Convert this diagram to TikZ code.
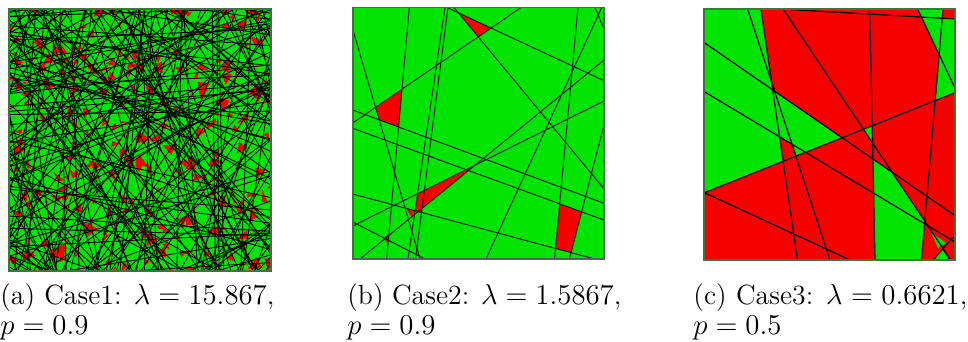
\documentclass[tikz,border=0pt]{standalone}
\begin{document}
\definecolor{pgreen}{RGB}{0,228,0}
\definecolor{pred}{RGB}{246,0,0}
\tikzset{
  aline/.style={black, line width=0.42pt},
  bline/.style={black!75!green!60!black, line width=0.5pt},
  cline/.style={black, line width=0.6pt},
  frame/.style={draw=black!60!green!50!gray, line width=0.9pt},
  captext/.style={inner sep=0pt, text width=137pt, align=justify, anchor=north west,
              font=\fontsize{13.9}{15}\selectfont}
}
\begin{tikzpicture}[x=0.5pt,y=-0.5pt]
\useasboundingbox (0,0) rectangle (968,342);

% ---------------- panel (a) ----------------
\begin{scope}
  \clip (9,9) rectangle (271,271);
  \fill[pgreen] (9,9) rectangle (271,271);
  \pgfmathsetseed{11}
  \foreach \i in {1,...,230}{
    \pgfmathsetmacro\cx{9+262*rnd}
    \pgfmathsetmacro\cy{9+262*rnd}
    \pgfmathsetmacro\sz{4+9*rnd}
    \pgfmathsetmacro\rot{360*rnd}
    \pgfmathsetmacro\tw{115+50*rnd}
    \fill[pred] (\cx,\cy) -- ++(\rot:\sz) -- ++(\rot+\tw:\sz*1.2) -- cycle;
  }
  \foreach \i in {1,...,225}{
    \pgfmathsetmacro\ang{180*rnd}
    \pgfmathsetmacro\rr{(rnd-0.5)*372}
    \draw[aline] ({140+\rr*cos(\ang)-200*sin(\ang)},{140+\rr*sin(\ang)+200*cos(\ang)})
      -- ({140+\rr*cos(\ang)+200*sin(\ang)},{140+\rr*sin(\ang)-200*cos(\ang)});
  }
\end{scope}
\draw[frame] (9,9) rectangle (271,271);

% ---------------- panel (b) ----------------
\coordinate (bA1) at (409.3,7.5);   \coordinate (bA2) at (386.7,259);
\coordinate (bb1) at (352.7,29.3);  \coordinate (bb2) at (420,259);
\coordinate (bc1) at (445,7.5);     \coordinate (bc2) at (408,259);
\coordinate (bd1) at (448,7.5);     \coordinate (bd2) at (415.5,259);
\coordinate (be1) at (352.7,123);   \coordinate (be2) at (521,7.5);
\coordinate (bF1) at (447,7.5);     \coordinate (bF2) at (604,80.7);
\coordinate (bG1) at (454,7.5);     \coordinate (bG2) at (604,188.8);
\coordinate (bH1) at (578,7.5);     \coordinate (bH2) at (554.5,259);
\coordinate (bI1) at (595,7.5);     \coordinate (bI2) at (604,29);
\coordinate (bL1) at (352.7,110);   \coordinate (bL2) at (604,203.3);
\coordinate (bM1) at (352.7,128.3); \coordinate (bM2) at (604,220);
\coordinate (bS1) at (352.7,194);   \coordinate (bS2) at (594.7,259);
\coordinate (bJ1) at (604,125);     \coordinate (bJ2) at (569.5,259);
\coordinate (bP1) at (352.7,226);   \coordinate (bP2) at (604,101);
\coordinate (bQ1) at (360,259);     \coordinate (bQ2) at (604,60);
\coordinate (bV1) at (601.7,7.5);   \coordinate (bV2) at (486,259);
\coordinate (bW1) at (352.7,222);   \coordinate (bW2) at (425,259);
\begin{scope}
  \clip (352.7,7.5) rectangle (604,259);
  \fill[pgreen] (352.7,7.5) rectangle (604,259);
  \fill[pred] (intersection of bF1--bF2 and bG1--bG2) -- (intersection of bF1--bF2 and be1--be2)
     -- (intersection of bG1--bG2 and be1--be2) -- cycle;
  \fill[pred] (intersection of bb1--bb2 and be1--be2) -- (intersection of be1--be2 and bA1--bA2)
     -- (intersection of bA1--bA2 and bL1--bL2) -- (intersection of bL1--bL2 and bb1--bb2) -- cycle;
  \fill[pred] (intersection of bc1--bc2 and bP1--bP2) -- (intersection of bP1--bP2 and bQ1--bQ2)
     -- (intersection of bQ1--bQ2 and bd1--bd2) -- (intersection of bd1--bd2 and bS1--bS2)
     -- (intersection of bS1--bS2 and bc1--bc2) -- cycle;
  \fill[pred] (406.7,209.3) -- (415,210.5) -- (411.5,217) -- cycle;
  \fill[pred] (383.3,238.7) -- (388.3,233.7) -- (387.5,242.5) -- cycle;
  \fill[pred] (intersection of bH1--bH2 and bM1--bM2) -- (intersection of bM1--bM2 and bJ1--bJ2)
     -- (intersection of bJ1--bJ2 and bS1--bS2) -- (intersection of bS1--bS2 and bH1--bH2) -- cycle;
  \foreach \l in {A,b,c,d,e,F,G,H,I,L,M,S,J,P,Q,V,W}{
    \draw[bline] (b\l1) -- (b\l2);
  }
\end{scope}
\draw[frame] (352.7,7.5) rectangle (604,259);

% ---------------- panel (c) ----------------
\coordinate (cA1) at (704.3,42.7);  \coordinate (cA2) at (955,215.7);
\coordinate (cB1) at (704.3,91.7);  \coordinate (cB2) at (955,242);
\coordinate (cC1) at (704.3,192.7); \coordinate (cC2) at (955,92.7);
\coordinate (cD1) at (704.3,192.7); \coordinate (cD2) at (850,260);
\coordinate (cE1) at (761,9.3);     \coordinate (cE2) at (797.5,260);
\coordinate (cZ1) at (747.7,9.3);   \coordinate (cZ2) at (830,260);
\coordinate (cH1) at (783.3,9.3);   \coordinate (cH2) at (950.7,260);
\coordinate (cT1) at (785,9.3);     \coordinate (cT2) at (955,19);
\coordinate (cI1) at (917.7,9.3);   \coordinate (cI2) at (955,88.3);
\coordinate (cK1) at (943,9.3);     \coordinate (cK2) at (921.5,260);
\coordinate (cV1) at (869.7,9.3);   \coordinate (cV2) at (875,260);
\coordinate (cM1) at (955,235);     \coordinate (cM2) at (933,260);
\begin{scope}
  \clip (704.3,9.3) rectangle (955,260);
  \fill[pred] (704.3,9.3) rectangle (955,260);
  \fill[pgreen] (704.3,9.3) -- (cE1) -- (intersection of cE1--cE2 and cC1--cC2) -- (cC1) -- cycle;
  \fill[pgreen] (intersection of cE1--cE2 and cZ1--cZ2) -- (intersection of cZ1--cZ2 and cB1--cB2)
     -- (intersection of cE1--cE2 and cB1--cB2) -- cycle;
  \fill[pgreen] (intersection of cZ1--cZ2 and cA1--cA2) -- (intersection of cA1--cA2 and cC1--cC2)
     -- (intersection of cC1--cC2 and cZ1--cZ2) -- cycle;
  \fill[pgreen] (intersection of cH1--cH2 and cC1--cC2) -- (intersection of cC1--cC2 and cV1--cV2)
     -- (intersection of cV1--cV2 and cH1--cH2) -- cycle;
  \fill[pgreen] (intersection of cV1--cV2 and cA1--cA2) -- (intersection of cA1--cA2 and cH1--cH2)
     -- (intersection of cH1--cH2 and cK1--cK2) -- (cK2) -- (cV2) -- cycle;
  \fill[pgreen] (931.3,233) -- (946.3,243) -- (938,248) -- cycle;
  \fill[pgreen] (941.7,249) -- (949,260) -- (935,260) -- cycle;
  \fill[pgreen] (cI1) -- (cK1) -- (intersection of cK1--cK2 and cT1--cT2) -- (cT2) -- (cC2)
     -- (intersection of cC1--cC2 and cK1--cK2) -- (intersection of cK1--cK2 and cI1--cI2) -- cycle;
  \foreach \l in {A,B,C,D,E,Z,H,T,I,K,V,M}{
    \draw[cline] (c\l1) -- (c\l2);
  }
\end{scope}
\draw[frame] (704.3,9.3) rectangle (955,260);

% ---------------- captions ----------------
\node[captext] (capa) at (0,283.5) {(a) Case1: $\lambda = 15.867$, $p = 0.9$};
\node[captext] (capb) at (347,283.5) {(b) Case2: $\lambda = 1.5867$, $p = 0.9$};
\node[captext] (capc) at (693,283.5) {(c) Case3: $\lambda = 0.6621$, $p = 0.5$};
\end{tikzpicture}
\end{document}
